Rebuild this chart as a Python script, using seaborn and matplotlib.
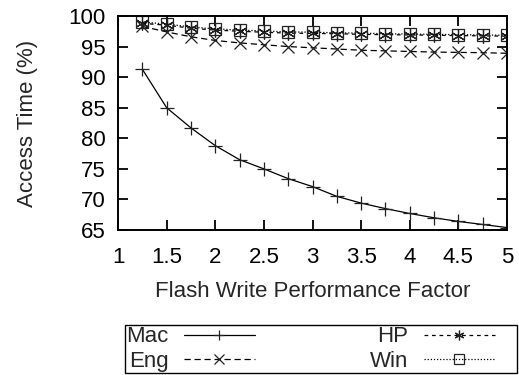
import matplotlib
matplotlib.use("Agg")
import matplotlib.pyplot as plt
from matplotlib.patches import Rectangle
import seaborn as sns
import pandas as pd

# Flash write performance factor (x) and relative access time (%) per trace
factor = [1.25, 1.5, 1.75, 2.0, 2.25, 2.5, 2.75, 3.0, 3.25, 3.5, 3.75, 4.0, 4.25, 4.5, 4.75, 5.0]
mac = [91.3, 85.0, 81.7, 78.8, 76.5, 75.0, 73.4, 72.1, 70.5, 69.4, 68.5, 67.7, 67.0, 66.4, 65.9, 65.4]
eng = [98.3, 97.4, 96.6, 96.0, 95.6, 95.3, 95.0, 94.8, 94.6, 94.4, 94.3, 94.2, 94.1, 94.05, 94.0, 93.9]
hp = [98.8, 98.5, 98.0, 97.7, 97.5, 97.35, 97.2, 97.15, 97.1, 97.0, 96.95, 96.9, 96.85, 96.8, 96.75, 96.7]
win = [99.0, 98.7, 98.2, 97.9, 97.7, 97.55, 97.4, 97.35, 97.25, 97.2, 97.1, 97.05, 97.0, 96.95, 96.9, 96.85]

series_names = ["Mac", "Eng", "HP", "Win"]
series_values = [mac, eng, hp, win]

x_ticks = [1, 1.5, 2, 2.5, 3, 3.5, 4, 4.5, 5]
x_tick_labels = ["1", "1.5", "2", "2.5", "3", "3.5", "4", "4.5", "5"]
y_ticks = [65, 70, 75, 80, 85, 90, 95, 100]

df = pd.DataFrame({
    "factor": factor * len(series_names),
    "value": [v for vals in series_values for v in vals],
    "trace": [n for n in series_names for _ in factor],
})

sns.set_theme(style="ticks")
plt.rcParams["font.family"] = ["Liberation Sans", "DejaVu Sans"]

FS = 16
W, H = 519, 375

fig = plt.figure(figsize=(W / 100, H / 100), dpi=100)
ax = fig.add_axes([118 / W, 1 - 230 / H, 389 / W, 214 / H])

styles = {
    "Mac": dict(marker="+", ls="-", ms=10),
    "Eng": dict(marker="x", ls=(0, (5, 3)), ms=8),
    "HP": dict(marker=(6, 2, 0), ls=(0, (3, 3)), ms=10),
    "Win": dict(marker="s", ls=(0, (1, 1.5)), ms=9),
}

for name in series_names:
    st = styles[name]
    sub = df[df["trace"] == name]
    sns.lineplot(data=sub, x="factor", y="value", ax=ax, label=name,
                 color="black", marker=st["marker"], linestyle=st["ls"],
                 linewidth=0.9, markersize=st["ms"], markeredgewidth=0.9,
                 markeredgecolor="#222222", markerfacecolor="none")

ax.set_xlim(1, 5)
ax.set_ylim(65, 100)
ax.set_xticks(x_ticks)
ax.set_xticklabels(x_tick_labels)
ax.set_yticks(y_ticks)
ax.tick_params(direction="in", length=7, width=1.3, labelsize=FS, colors="black",
               top=True, right=True)
ax.tick_params(axis="x", pad=12.5)
ax.tick_params(axis="y", pad=9)
for sp in ax.spines.values():
    sp.set_visible(True)
    sp.set_linewidth(1.4)
    sp.set_color("black")

ax.set_xlabel("Flash Write Performance Factor", fontsize=FS, labelpad=9)
ax.set_ylabel("Access Time (%)", fontsize=FS, labelpad=22)

# Legend entries spread over two columns below the plot, with a plain box round them
leg = ax.legend(loc="center left", bbox_to_anchor=(126 / W, 4 / H, 369 / W, 44 / H),
                bbox_transform=fig.transFigure, mode="expand", ncol=2, fontsize=FS,
                markerfirst=False, frameon=False, handlelength=3.2,
                borderpad=0.0, labelspacing=0.15, handletextpad=0.7, borderaxespad=0)
for h in leg.legend_handles:
    h.set_markersize(7)
fig.add_artist(Rectangle((125 / W, 2 / H), 392 / W, 48 / H, transform=fig.transFigure,
                         fill=False, edgecolor="black", linewidth=1.0))

fig.savefig("out.png", dpi=100)
